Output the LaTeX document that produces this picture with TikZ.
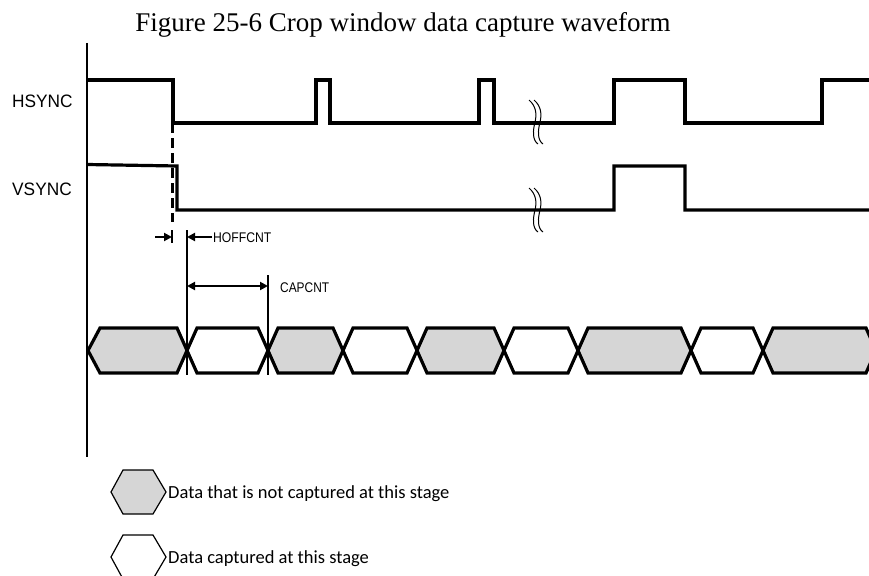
\documentclass[tikz,border=0pt]{standalone}
\usepackage{fontspec}
\setmainfont{Liberation Serif}
\newfontfamily\sigfont{Liberation Sans}
\newfontfamily\legfont{Carlito}
\usetikzlibrary{arrows.meta}
\tikzset{
  wave/.style={line width=3.2pt, line join=miter},
  axisline/.style={line width=2pt},
  guide/.style={line width=1.6pt},
  dim/.style={line width=2pt},
  bus/.style={line width=3.2pt, line join=miter},
  legbox/.style={line width=1.2pt, line join=miter},
  brk/.style={line width=1pt},
  siglabel/.style={anchor=base west, inner sep=0pt, font=\sigfont\fontsize{18}{20}\selectfont},
  dimlabel/.style={anchor=base west, inner sep=0pt, font=\sigfont\fontsize{14}{16}\selectfont},
  legtext/.style={anchor=base west, inner sep=0pt, font=\legfont\fontsize{18.5}{20}\selectfont},
  tip/.tip={Triangle[length=8pt,width=8pt]}
}
\definecolor{busgray}{RGB}{214,214,214}
\begin{document}
\begin{tikzpicture}[x=1pt,y=-1pt]
\useasboundingbox (0,0) rectangle (869,575);
\clip (0,0) rectangle (869,575);
% title
\node[anchor=base, inner sep=0pt, font=\fontsize{27}{30}\selectfont] (title) at (403,32) {Figure 25-6 Crop window data capture waveform};
% axis
\coordinate (axtop) at (87,43);
\coordinate (axbot) at (87,457);
\draw[axisline] (axtop) -- (axbot);
% labels
\node[siglabel] (hs) at (12,108) {\scalebox{0.96}[1]{HSYNC}};
\node[siglabel] (vs) at (12,195) {\scalebox{0.96}[1]{VSYNC}};
% HSYNC waveform
\draw[wave] (87,80) -- (173,80) -- (173,123) -- (316,123) -- (316,80) -- (330,80) -- (330,123)
  -- (479,123) -- (479,80) -- (494,80) -- (494,123) -- (614,123) -- (614,80) -- (685,80)
  -- (685,123) -- (822,123) -- (822,80) -- (875,80);
% VSYNC waveform
\draw[wave] (87,164.5) -- (177,166) -- (177,210) -- (614,210) -- (614,166) -- (685,166)
  -- (685,210) -- (875,210);
% break marks
\foreach \yy in {100,188}{
  \foreach \dx in {0,5}{
    \draw[brk] ([xshift=\dx pt]529,\yy) .. controls ([xshift=\dx pt]536,\yy+6) and ([xshift=\dx pt]537,\yy+14) .. ([xshift=\dx pt]535,\yy+22)
      .. controls ([xshift=\dx pt]533,\yy+30) and ([xshift=\dx pt]532,\yy+40) .. ([xshift=\dx pt]538,\yy+44);
  }
}
% dashed guide
\coordinate (dtop) at (172,123);
\coordinate (dbot) at (172,222);
\draw[line width=3pt, dash pattern=on 10pt off 5pt] (dtop) -- (dbot);
% HOFFCNT
\coordinate (t1a) at (172,230);
\coordinate (t1b) at (172,243);
\draw[guide] (t1a) -- (t1b);
\coordinate (v1a) at (187,230);
\coordinate (v1b) at (187,375);
\draw[guide] (v1a) -- (v1b);
\coordinate (hl) at (155,237);
\coordinate (hlend) at (172,237);
\coordinate (hr) at (212,237);
\coordinate (hrend) at (187,237);
\draw[dim,-tip] (hl) -- (hlend);
\draw[dim,-tip] (hr) -- (hrend);
\node[dimlabel] (hoff) at (213,242) {\scalebox{0.87}[1]{HOFFCNT}};
% CAPCNT
\coordinate (v2a) at (268,275);
\coordinate (v2b) at (268,375);
\draw[guide] (v2a) -- (v2b);
\coordinate (cl) at (187,286);
\coordinate (cr) at (268,286);
\draw[dim,tip-tip] (cl) -- (cr);
\node[dimlabel] (cap) at (280,292) {\scalebox{0.85}[1]{CAPCNT}};
% data bus
\def\bt{328}\def\bb{373}\def\bm{350.5}\def\hh{10}
\draw[bus, fill=busgray] (88,\bm) -- (100,\bt) -- (187-\hh,\bt) -- (187,\bm) -- (187-\hh,\bb) -- (100,\bb) -- cycle;
\foreach \xa/\xb/\col in {187/268/white, 268/343/busgray, 343/417/white, 417/504/busgray, 504/578/white, 578/691/busgray, 691/763/white, 763/876/busgray}{
  \draw[bus, fill=\col] (\xa,\bm) -- (\xa+\hh,\bt) -- (\xb-\hh,\bt) -- (\xb,\bm) -- (\xb-\hh,\bb) -- (\xa+\hh,\bb) -- cycle;
}
% legend
\draw[legbox, fill=busgray] (111,492) -- (123,470) -- (153,470) -- (166,492) -- (153,514) -- (123,514) -- cycle;
\draw[legbox, fill=white] (111,557) -- (123,535) -- (153,535) -- (166,557) -- (153,579) -- (123,579) -- cycle;
\node[legtext] (l1) at (168,498) {Data that is not captured at this stage};
\node[legtext] (l2) at (168,563) {Data captured at this stage};
\end{tikzpicture}
\end{document}
